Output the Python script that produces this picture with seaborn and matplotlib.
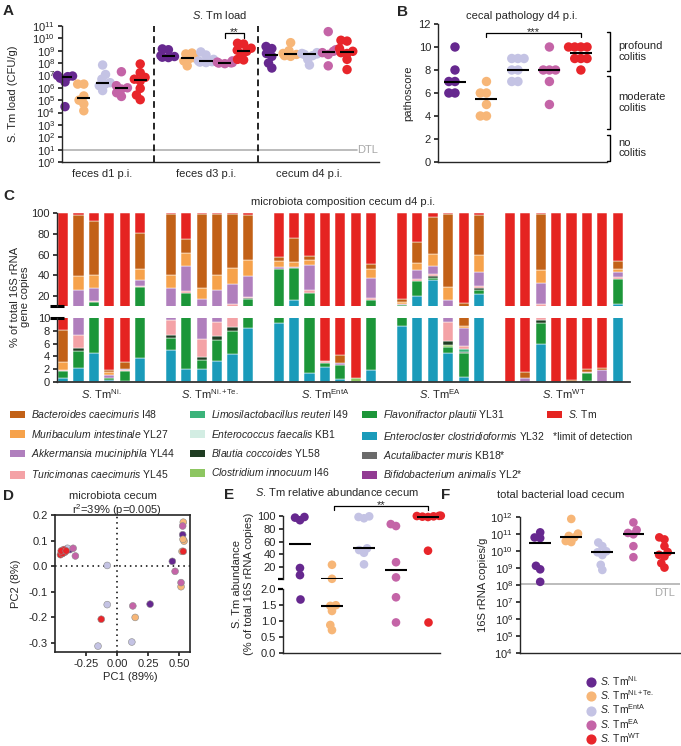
import warnings
import numpy as np
import pandas as pd
import matplotlib
matplotlib.use("Agg")
import matplotlib.pyplot as plt
from matplotlib.patches import Patch
from matplotlib.lines import Line2D
from matplotlib.ticker import NullLocator, FormatStrFormatter
import seaborn as sns

warnings.filterwarnings("ignore")

# ---------------- data ----------------
strains = ["Ni.", "Ni.{+}Te.", "EntA", "EA", "WT"]
strain_colors = ["#66288f", "#f7b677", "#c4c3e4", "#c464a7", "#e8252a"]

# A: S. Tm load (CFU/g), one list per strain
timepoints = ["feces d1 p.i.", "feces d3 p.i.", "cecum d4 p.i."]
load_feces_d1 = [[1e7, 9e6, 8e6, 6e6, 3e6, 3e4],
                 [2e6, 2e6, 2.2e5, 1e5, 5e4, 1.4e4],
                 [7e7, 1.2e7, 5e6, 2.6e6, 2e6, 1.5e6, 6e5],
                 [2e7, 1.5e6, 1e6, 8e5, 4e5, 2e5],
                 [8.5e7, 1.7e7, 7e6, 5e6, 3.6e6, 9e5, 2.6e5, 1.1e5]]
load_feces_d3 = [[1.4e9, 1.2e9, 4e8, 3.4e8, 3e8, 2.8e8],
                 [6.5e8, 5.5e8, 2.7e8, 2.3e8, 1.5e8, 6e7],
                 [8e8, 4.5e8, 2e8, 1.5e8, 1.3e8, 1.2e8, 1.1e8],
                 [1.5e8, 1.2e8, 1.1e8, 1.05e8, 1e8, 9e7],
                 [4e9, 3.5e9, 1.6e9, 1.1e9, 9e8, 5e8, 2e8, 1.8e8]]
load_cecum_d4 = [[2.2e9, 1.5e9, 6e8, 3.5e8, 1e8, 4e7],
                 [4.5e9, 1e9, 6e8, 5e8, 4e8, 3.5e8],
                 [7e8, 6e8, 5.5e8, 5e8, 4e8, 2e8, 7e7],
                 [3.5e10, 1.2e9, 9e8, 7e8, 5e8, 6e7],
                 [7e9, 6e9, 1.5e9, 9e8, 7e8, 6e8, 2e8, 3e7]]
dtl_cfu = 10

# B: pathoscore
pathoscore = [[10, 8, 7, 7, 6, 6],
              [7, 6, 6, 5, 4, 4],
              [9, 9, 9, 8, 8, 7, 7],
              [10, 8, 8, 8, 7, 5],
              [10, 10, 10, 10, 9, 9, 9, 8]]

# C: microbiota composition (% of 16S copies), one value per mouse
bars_per_strain = [6, 6, 7, 6, 8]
enterocloster = [0.7, 2.2, 4.5, 0.3, 0.2, 3.8, 5.0, 2.0, 2.1, 3.3, 4.4, 8.5,
                 9.2, 16, 1.35, 2.3, 0.4, 0, 1.9, 8.8, 19.6, 35.8, 4.5, 0.85, 21.5,
                 0, 0, 6.0, 0, 0, 0.15, 0, 12.3]
flavonifractor = [1.0, 2.6, 9.5, 0.3, 1.5, 25.2, 1.8, 21, 1.4, 3.2, 3.6, 9,
                  36.8, 31, 21.15, 0.7, 2.2, 0, 14.3, 2.5, 15, 1.6, 1.0, 3.65, 4.5,
                  0, 0, 3.2, 0, 0, 1.2, 0, 24]
clostridium = [0, 0, 0, 0, 0, 0, 0, 0, 0, 0, 0, 0,
               0, 0, 0, 0, 0, 0.6, 0, 0, 0, 0, 0.3, 0, 0,
               0, 0, 0, 0, 0, 0, 0, 0]
blautia = [0, 0.5, 0, 0, 0, 0, 0.6, 0, 0.4, 0.7, 0.6, 0.5,
           0, 0, 0, 0, 0, 0, 0, 0, 0, 1.6, 0.6, 0.2, 2,
           0, 0, 0.5, 0, 0, 0, 0, 0]
limosilactobacillus = [0, 0, 0, 0, 0, 0, 0, 0, 0, 0, 0, 0,
                       0, 0, 0, 0, 0, 0, 0, 0, 0, 0, 0, 0.5, 0,
                       0, 0, 0, 0, 0, 0, 0, 0]
enterococcus = [0] * 33
turicimonas = [0.2, 2.0, 1.5, 0, 0.2, 0.8, 2.3, 2, 2.8, 2.1, 3.9, 1.5,
               0, 0, 3.3, 0.3, 0, 0, 1.5, 0, 1.4, 2, 2.9, 0.4, 2,
               0, 0, 2.6, 0, 0, 0.25, 0, 1.6]
akkermansia = [0, 18.7, 12.5, 0.5, 0.2, 5.5, 17.9, 23.9, 10.6, 16.5, 19.4, 19.5,
               2.3, 1, 24.5, 0, 0.4, 0, 19.9, 1.1, 9, 7.9, 7.3, 2.8, 13,
               0, 0.6, 20.5, 0, 0, 0, 1.85, 4.8]
muribaculum = [1.3, 13, 12, 0.5, 0, 11, 12.4, 12.1, 10.7, 14.7, 15.1, 16,
               5.7, 4.4, 4.7, 0, 0, 0, 8.4, 1.6, 7, 11.7, 12, 0.4, 16.6,
               0, 0, 11.9, 0, 0, 0, 0, 3.3]
bacteroides = [4.9, 59.4, 52, 0.3, 1.0, 34.7, 58.7, 14, 71, 58.5, 52, 43,
               3.9, 23.6, 4, 0, 1.2, 0, 5, 3.3, 20, 35.4, 70.4, 4.2, 38.4,
               0, 1.0, 54.3, 0, 0.3, 0.4, 0.35, 7.7]
acutalibacter = [0] * 33
bifidobacterium = [0] * 33
s_tm = [91.9, 1.6, 8, 98.1, 96.9, 19, 1.3, 25, 1, 1, 1, 2,
        42.1, 24, 41, 96.7, 95.8, 99.4, 49, 82.7, 28, 4, 1, 87, 2,
        100, 98.4, 1, 100, 99.7, 98, 97.8, 46.3]

# D: PCoA coordinates
pc1 = [[-0.43, -0.38, -0.44, 0.527, 0.444, 0.265],
       [0.532, 0.538, 0.522, 0.514, 0.53, 0.145],
       [-0.42, -0.445, -0.40, -0.08, -0.08, -0.154, 0.118],
       [-0.354, -0.336, 0.527, 0.466, 0.514, 0.126],
       [-0.456, -0.43, -0.42, -0.44, -0.45, -0.41, -0.128, 0.532]]
pc2 = [[0.06, 0.065, 0.05, 0.123, 0.019, -0.148],
       [0.172, 0.098, 0.058, -0.08, 0.105, -0.2],
       [0.06, 0.055, 0.07, 0.003, -0.15, -0.312, -0.296],
       [0.07, 0.04, 0.157, -0.02, -0.064, -0.155],
       [0.045, 0.065, 0.055, 0.05, 0.06, 0.06, -0.207, 0.058]]

# E: S. Tm relative abundance (%)
stm_abundance = [[98, 97, 93, 19, 8, 1.68],
                 [24, 2.3, 1.49, 1.47, 1.31, 0.87, 0.71],
                 [99, 98, 96, 49.5, 46.8, 42.6, 24.7],
                 [87, 84, 28, 4.5, 1.74, 0.95],
                 [100, 99.8, 99.5, 99, 98.5, 98, 45.8, 0.95]]

# F: total bacterial load (16S copies/g)
total_load = [[1.3e11, 6.5e10, 6e10, 1.4e9, 8.7e8, 1.6e8],
              [8e11, 1.1e11, 8e10, 6.5e10, 4e10, 3.5e10],
              [3.3e10, 2e10, 1e10, 8.7e9, 6e9, 1.6e9, 8e8],
              [5e11, 1.8e11, 1.2e11, 1e11, 2e10, 4.5e9],
              [6.6e10, 5e10, 2e10, 9e9, 6.2e9, 5e9, 2e9, 1.1e9]]
dtl_16s = 1.2e8

# ---------------- style ----------------
sns.set_theme(style="ticks")
plt.rcParams["font.family"] = ["Liberation Sans", "DejaVu Sans"]
plt.rcParams["mathtext.fontset"] = "custom"
plt.rcParams["mathtext.rm"] = "Liberation Sans"
plt.rcParams["mathtext.it"] = "Liberation Sans:italic"
plt.rcParams["mathtext.bf"] = "Liberation Sans:bold"
plt.rcParams["font.size"] = 8
plt.rcParams["axes.linewidth"] = 1.0
plt.rcParams["xtick.labelsize"] = 8
plt.rcParams["ytick.labelsize"] = 8
plt.rcParams["xtick.major.size"] = 3
plt.rcParams["ytick.major.size"] = 3
plt.rcParams["xtick.major.pad"] = 2
plt.rcParams["ytick.major.pad"] = 2

W, H = 681, 746
fig = plt.figure(figsize=(W / 100, H / 100), dpi=100)
palette = dict(zip(strains, strain_colors))
swarm_colls = []


def add_ax(x0, y0, x1, y1):
    return fig.add_axes([x0 / W, 1 - y1 / H, (x1 - x0) / W, (y1 - y0) / H])


def ftext(x, y, s, **kw):
    return fig.text(x / W, 1 - y / H, s, **kw)


def stm_label(sup):
    return r"$\it{S}$. Tm$^{\mathrm{" + sup + "}}$"


def to_long(groups, offset=0.0):
    rows = []
    for i, (s, vals) in enumerate(zip(strains, groups)):
        for v in vals:
            rows.append({"pos": offset + i, "strain": s, "val": v})
    return pd.DataFrame(rows)


def swarm(ax, df, size, shrink=0.62):
    # lay the swarm out with smaller dots so that they overlap like in Prism
    n0 = len(ax.collections)
    sns.swarmplot(data=df, x="pos", y="val", hue="strain", hue_order=strains,
                  palette=palette, native_scale=True, orient="x",
                  size=size * shrink, linewidth=0, legend=False, ax=ax,
                  clip_on=False, zorder=2)
    for c in ax.collections[n0:]:
        swarm_colls.append((c, 1 / shrink ** 2))
    ax.set_xlabel("")
    ax.set_ylabel("")


def medians(ax, df, half=0.35):
    med = df.groupby("pos")["val"].median()
    ax.hlines(med.values, med.index - half, med.index + half, color="black",
              lw=1.5, zorder=5)


def bracket(ax, x1, x2, y_top, y_bot, stars, dy=-2.5):
    ax.plot([x1, x1, x2, x2], [y_bot, y_top, y_top, y_bot], color="black",
            lw=0.9, clip_on=False)
    ax.annotate(stars, xy=((x1 + x2) / 2, y_top), xytext=(0, dy),
                textcoords="offset points", ha="center", va="bottom",
                fontsize=8, annotation_clip=False)


# ---------------- A ----------------
ax = add_ax(62, 26, 379, 162)
ax.set_yscale("log")
df_a = pd.concat([to_long(g, offset=t * 5.5) for t, g in
                  enumerate([load_feces_d1, load_feces_d3, load_cecum_d4])],
                 ignore_index=True)
swarm(ax, df_a, 6.8)
medians(ax, df_a)
ax.set_ylim(1, 1e11)
ax.set_xlim(-0.16, 16.7)
ax.set_yticks([10.0 ** k for k in range(12)])
ax.yaxis.set_minor_locator(NullLocator())
ax.set_xticks([2, 7.5, 13], timepoints)
ax.tick_params(axis="x", length=0, pad=5)
for xv in (4.75, 10.25):
    ax.axvline(xv, color="black", ls=(0, (4, 2.5)), lw=1.2)
ax.axhline(dtl_cfu, xmax=0.93, color="#b0b0b0", lw=1.2, zorder=1)
ax.text(0.997, dtl_cfu, "DTL", transform=ax.get_yaxis_transform(), ha="right",
        va="center", color="#a8a8a8", fontsize=8)
bracket(ax, 8.5, 9.5, 10 ** 10.4, 10 ** 10.05, "**")
sns.despine(ax=ax)
ftext(13, 94, "S. Tm load (CFU/g)", rotation=90, ha="center", va="center")
ftext(220, 15, r"$\it{S}$. Tm load", ha="center", va="center")
ftext(3, 11, "A", fontsize=11, weight="bold", va="center")

# ---------------- B ----------------
ax = add_ax(438, 24, 607, 162)
df_b = to_long(pathoscore)
swarm(ax, df_b, 6.8)
medians(ax, df_b)
ax.set_ylim(0, 12)
ax.set_xlim(-0.54, 4.83)
ax.set_yticks(range(0, 13, 2))
ax.set_xticks([])
bracket(ax, 1, 4, 11.2, 10.9, "***")
for y1, y2, txt in [(11.3, 7.9, "profound\ncolitis"), (7.5, 2.9, "moderate\ncolitis"),
                    (2.35, 0.1, "no\ncolitis")]:
    ax.plot([4.84, 4.93, 4.93, 4.84], [y1, y1, y2, y2], color="black", lw=1.0,
            clip_on=False)
    ax.text(5.18, (y1 + y2) / 2, txt, ha="left", va="center", fontsize=8,
            linespacing=1.1)
sns.despine(ax=ax)
ftext(408, 93, "pathoscore", rotation=90, ha="center", va="center")
ftext(522, 16, "cecal pathology d4 p.i.", ha="center", va="center")
ftext(397, 12, "B", fontsize=11, weight="bold", va="center")

# ---------------- C ----------------
species = [
    (enterocloster, "#1a9bba", r"$\it{Enterocloster\ clostridioformis}$ YL32"),
    (flavonifractor, "#1c9639", r"$\it{Flavonifractor\ plautii}$ YL31"),
    (clostridium, "#8dc661", r"$\it{Clostridium\ innocuum}$ I46"),
    (blautia, "#1f3d22", r"$\it{Blautia\ coccoides}$ YL58"),
    (limosilactobacillus, "#3bb37a", r"$\it{Limosilactobacillus\ reuteri}$ I49"),
    (enterococcus, "#d3ede3", r"$\it{Enterococcus\ faecalis}$ KB1"),
    (turicimonas, "#f4a2a6", r"$\it{Turicimonas\ caecimuris}$ YL45"),
    (akkermansia, "#b07fbd", r"$\it{Akkermansia\ muciniphila}$ YL44"),
    (muribaculum, "#f6a24b", r"$\it{Muribaculum\ intestinale}$ YL27"),
    (bacteroides, "#c26117", r"$\it{Bacteroides\ caecimuris}$ I48"),
    (acutalibacter, "#6b6b6b", r"$\it{Acutalibacter\ muris}$ KB18*"),
    (bifidobacterium, "#923b93", r"$\it{Bifidobacterium\ animalis}$ YL2*"),
    (s_tm, "#e52421", r"$\it{S}$. Tm"),
]
pos = []
start = 0
centers = []
for n in bars_per_strain:
    pos.extend(range(start, start + n))
    centers.append(start + (n - 1) / 2)
    start += n + 1
pos = np.array(pos, dtype=float)

ax_cu = add_ax(57, 213, 630, 306)
ax_cl = add_ax(57, 318, 630, 382)
for a in (ax_cu, ax_cl):
    bottom = np.zeros(len(pos))
    for vals, col, _ in species:
        v = np.array(vals, dtype=float)
        m = v > 0
        a.bar(pos[m], v[m], bottom=bottom[m], width=0.66, color=col,
              edgecolor="white", linewidth=0.35)
        bottom += v
    a.set_xlim(-0.39, 36.8)
ax_cu.set_ylim(10.4, 100)
ax_cu.set_yticks([20, 40, 60, 80, 100])
ax_cu.set_xticks([])
sns.despine(ax=ax_cu, bottom=True)
ax_cl.set_ylim(0, 10)
ax_cl.set_yticks(range(0, 11, 2))
ax_cl.set_xticks(centers, [stm_label(s) for s in strains])
ax_cl.tick_params(axis="x", length=0, pad=4)
ax_cl.spines["bottom"].set_color("#333333")
ax_cl.spines["bottom"].set_linewidth(1.3)
sns.despine(ax=ax_cl)
for a, yb in ((ax_cu, 0), (ax_cl, 1)):
    a.plot([-0.012, 0.012], [yb, yb], transform=a.transAxes, color="black",
           lw=2.2, clip_on=False, solid_capstyle="butt")
ftext(20, 297, "% of total 16S rRNA\ngene copies", rotation=90, ha="center",
      va="center", linespacing=1.1)
ftext(343, 202, "microbiota composition cecum d4 p.i.", ha="center", va="center")
ftext(3, 196, "C", fontsize=11, weight="bold", va="center")

# legend for C, one column at a time as in the figure
legend_cols = [[9, 8, 7, 6], [4, 5, 3, 2], [1, 0, 10, 11], [12]]
col_x = [10, 190, 362, 547]
for idxs, lx in zip(legend_cols, col_x):
    handles = [Patch(facecolor=species[i][1], edgecolor="none") for i in idxs]
    labels = [species[i][2] for i in idxs]
    fig.legend(handles, labels, loc="upper left",
               bbox_to_anchor=(lx / W, 1 - 408 / H), frameon=False, fontsize=7.5,
               handlelength=1.4, handleheight=0.75, handletextpad=0.6,
               labelspacing=0.72, borderpad=0, borderaxespad=0)
ftext(553, 437, "*limit of detection", ha="left", va="center", fontsize=7.5)

# ---------------- D ----------------
ax = add_ax(55, 515, 190, 652)
rows = []
for s, xs, ys in zip(strains, pc1, pc2):
    for x, y in zip(xs, ys):
        rows.append({"strain": s, "pc1": x, "pc2": y})
df_d = pd.DataFrame(rows)
ax.axvline(0, color="black", ls=(0, (1, 2.5)), lw=1.1, zorder=0)
ax.axhline(0, color="black", ls=(0, (1, 2.5)), lw=1.1, zorder=0)
sns.scatterplot(data=df_d, x="pc1", y="pc2", hue="strain", hue_order=strains,
                palette=palette, s=24, edgecolor="#8c8c8c", linewidth=0.4,
                legend=False, ax=ax, zorder=3)
ax.set_xlim(-0.5, 0.586)
ax.set_ylim(-0.335, 0.2)
ax.set_xticks([-0.25, 0, 0.25, 0.5])
ax.set_yticks([-0.3, -0.2, -0.1, 0, 0.1, 0.2])
ax.xaxis.set_major_formatter(FormatStrFormatter("%.2f"))
ax.yaxis.set_major_formatter(FormatStrFormatter("%.1f"))
for sp in ax.spines.values():
    sp.set_linewidth(1.2)
ax.set_xlabel("")
ax.set_ylabel("")
ftext(130, 677, "PC1 (89%)", ha="center", va="center")
ftext(16, 584, "PC2 (8%)", rotation=90, ha="center", va="center")
ftext(117, 510, r"r$^2$=39% (p=0.005)", ha="center", va="center")
ftext(113, 496, "microbiota cecum", ha="center", va="center")
ftext(3, 496, "D", fontsize=11, weight="bold", va="center")

# ---------------- E ----------------
ax_et = add_ax(283, 515.7, 440, 579)
ax_eb = add_ax(283, 589, 440, 652.7)
df_e = to_long(stm_abundance)
swarm(ax_et, df_e[df_e["val"] >= 2], 6.2)
swarm(ax_eb, df_e[df_e["val"] < 2], 6.2)
for a in (ax_et, ax_eb):
    medians(a, df_e)
    a.set_xlim(-0.53, 4.375)
ax_et.set_ylim(2, 100)
ax_et.set_yticks([20, 40, 60, 80, 100])
ax_et.set_xticks([])
sns.despine(ax=ax_et, bottom=True)
ax_eb.set_ylim(0, 2)
ax_eb.set_yticks([0, 0.5, 1.0, 1.5, 2.0])
ax_eb.yaxis.set_major_formatter(FormatStrFormatter("%.1f"))
ax_eb.set_xticks([])
sns.despine(ax=ax_eb)
for a, yb in ((ax_et, 0), (ax_eb, 1)):
    a.plot([-0.035, 0.0], [yb, yb], transform=a.transAxes, color="black",
           lw=1.6, clip_on=False, solid_capstyle="butt")
bracket(ax_et, 1.06, 4, 115.5, 108.8, "**", dy=-3.5)
ftext(243, 584, "S. Tm abundance\n(% of total 16S rRNA copies)", rotation=90,
      ha="center", va="center", linespacing=1.15)
ftext(337, 492, r"$\it{S}$. Tm relative abundance cecum", ha="center", va="center")
ftext(224, 495, "E", fontsize=11, weight="bold", va="center")

# ---------------- F ----------------
ax = add_ax(520, 517.3, 680, 653.3)
ax.set_yscale("log")
df_f = to_long(total_load)
swarm(ax, df_f, 6.2)
medians(ax, df_f)
ax.set_ylim(1e4, 1e12)
ax.set_xlim(-0.65, 4.5)
ax.set_yticks([10.0 ** k for k in range(4, 13)])
ax.yaxis.set_minor_locator(NullLocator())
ax.set_xticks([])
ax.axhline(dtl_16s, color="#b0b0b0", lw=1.2, zorder=1)
ax.text(0.97, 10 ** 7.55, "DTL", transform=ax.get_yaxis_transform(), ha="right",
        va="center", color="#a8a8a8", fontsize=8)
sns.despine(ax=ax)
ftext(483, 585, "16S rRNA copies/g", rotation=90, ha="center", va="center")
ftext(561, 495, "total bacterial load cecum", ha="center", va="center")
ftext(441, 495, "F", fontsize=11, weight="bold", va="center")

strain_handles = [Line2D([], [], marker="o", ls="", color=c, markersize=6.3)
                  for c in strain_colors]
fig.legend(strain_handles, [stm_label(s) for s in strains], loc="upper left",
           bbox_to_anchor=(586 / W, 1 - 674 / H), frameon=False, fontsize=7.5,
           handletextpad=0.3, labelspacing=0.05, borderpad=0, borderaxespad=0,
           handlelength=1.0)

# place the swarms, then freeze them and show the full-size dots
fig.canvas.draw()
for c, factor in swarm_colls:
    c.__dict__.pop("draw", None)
    c.set_sizes(c.get_sizes() * factor)

fig.savefig("out.png", dpi=100)
